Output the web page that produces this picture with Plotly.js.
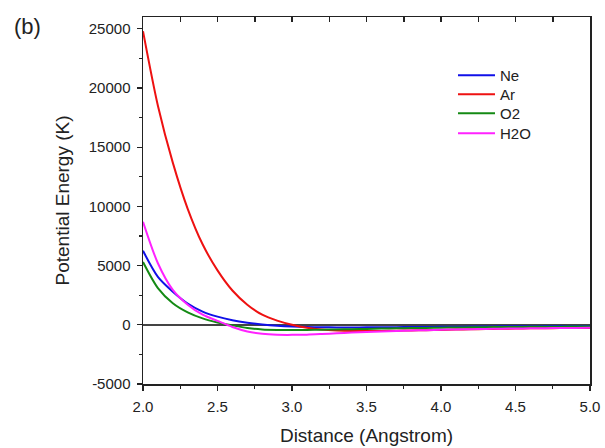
<!DOCTYPE html>
<html>
<head>
<meta charset="utf-8">
<script src="https://cdn.plot.ly/plotly-3.0.1.min.js"></script>
<style>html,body{margin:0;padding:0;background:#fff;}#chart{width:605px;height:448px;}</style>
</head>
<body>
<div id="chart"></div>
<script>
// Distance (Angstrom)
const distance = [2.0,2.1,2.2,2.3,2.4,2.5,2.6,2.7,2.8,2.9,3.0,3.1,3.2,3.3,3.4,3.5,3.6,3.7,3.8,3.9,4.0,4.1,4.2,4.3,4.4,4.5,4.6,4.7,4.8,4.9,5.0];
// Potential energy (K)
const ne  = [6250,4050,2800,1800,1120,690,390,180,30,-80,-150,-190,-210,-220,-220,-215,-210,-200,-190,-180,-170,-160,-150,-140,-130,-125,-118,-110,-105,-100,-95];
const ar  = [24800,18500,13700,9800,6800,4600,2900,1700,850,350,0,-250,-400,-480,-520,-530,-520,-500,-480,-450,-430,-400,-380,-360,-340,-320,-300,-290,-280,-270,-260];
const o2  = [5300,3100,1820,1050,540,200,-50,-270,-390,-430,-440,-430,-410,-390,-370,-350,-320,-300,-280,-260,-245,-230,-215,-200,-190,-180,-170,-160,-155,-150,-145];
const h2o = [8700,5200,2950,1700,850,330,-180,-560,-760,-840,-850,-830,-780,-720,-660,-610,-560,-520,-480,-450,-420,-390,-370,-350,-330,-310,-300,-285,-275,-265,-255];
const seriesNames = ['Ne','Ar','O2','H2O'];
const seriesData = [ne, ar, o2, h2o];
const seriesColors = ['#1010e8','#ee1111','#148a14','#ff22ff'];
const xTickVals = [2.0,2.5,3.0,3.5,4.0,4.5,5.0];
const xTickText = ['2.0','2.5','3.0','3.5','4.0','4.5','5.0'];
const xTopTickVals = [2.25,2.5,2.75,3.0,3.25,3.5,3.75,4.0,4.25,4.5,4.75];
const yTickVals = [-5000,0,5000,10000,15000,20000,25000];
const yTickText = ['-5000','0','5000','10000','15000','20000','25000'];

const font = 'Liberation Sans, Arial, sans-serif';
const legendIds = ['legend','legend2','legend3','legend4'];
const legendY = [0.8856,0.8338,0.7820,0.7275];
const traces = seriesNames.map((n,i)=>({
  x: distance, y: seriesData[i], name: n, type:'scatter', mode:'lines',
  legend: legendIds[i],
  line:{color: seriesColors[i], width:2, shape:'spline', smoothing:0.8}
}));
// top axis carrier trace (invisible) so the inward top ticks get drawn
traces.push({x:[2,5], y:[-5000,-5000], xaxis:'x2', yaxis:'y', mode:'lines', line:{width:0, color:'rgba(0,0,0,0)'}, showlegend:false, hoverinfo:'skip'});

const legendBase = {x:0.6935, xanchor:'left', yanchor:'top', bgcolor:'rgba(0,0,0,0)', itemwidth:37, font:{family:font,size:15,color:'#222'}};

const layout = {
  width:605, height:448,
  margin:{l:143, r:15, t:17, b:64},
  paper_bgcolor:'#fff', plot_bgcolor:'#fff',
  font:{family:font, size:15, color:'#222'},
  showlegend:true,
  xaxis:{
    range:[2,5], tickvals:xTickVals, ticktext:xTickText,
    ticks:'outside', ticklen:5, tickwidth:1.3, tickcolor:'#222',
    minor:{dtick:0.25, tick0:2, ticks:'outside', ticklen:3, tickwidth:1.3, tickcolor:'#222'},
    showline:true, linecolor:'#222', linewidth:1.5, mirror:true,
    showgrid:false, zeroline:false, ticklabelstandoff:3,
    title:{text:'Distance (Angstrom)', font:{family:font,size:19,color:'#222'}, standoff:15}
  },
  xaxis2:{
    range:[2,5], overlaying:'x', side:'top', anchor:'y',
    tickvals:xTopTickVals, ticks:'inside', ticklen:5, tickwidth:1.5, tickcolor:'#222',
    showticklabels:false, showline:false, showgrid:false, zeroline:false
  },
  yaxis:{
    range:[-5000,26000], tickvals:yTickVals, ticktext:yTickText,
    ticks:'outside', ticklen:5, tickwidth:1.3, tickcolor:'#222',
    minor:{dtick:2500, tick0:0, ticks:'outside', ticklen:3, tickwidth:1.3, tickcolor:'#222'},
    showline:true, linecolor:'#222', linewidth:1.5, mirror:true,
    showgrid:false, zeroline:true, zerolinecolor:'#444', zerolinewidth:1.5, ticklabelstandoff:3,
    title:{text:'Potential Energy (K)', font:{family:font,size:19,color:'#222'}, standoff:14}
  },
  annotations:[{text:'(b)', xref:'paper', yref:'paper', x:-0.293, y:0.973, xanchor:'left', yanchor:'middle', showarrow:false, font:{family:font,size:22,color:'#222'}}]
};
legendIds.forEach((id,i)=>{ layout[id] = Object.assign({}, legendBase, {y: legendY[i]}); });
Plotly.newPlot('chart', traces, layout, {staticPlot:true, displayModeBar:false});
</script>
</body>
</html>
